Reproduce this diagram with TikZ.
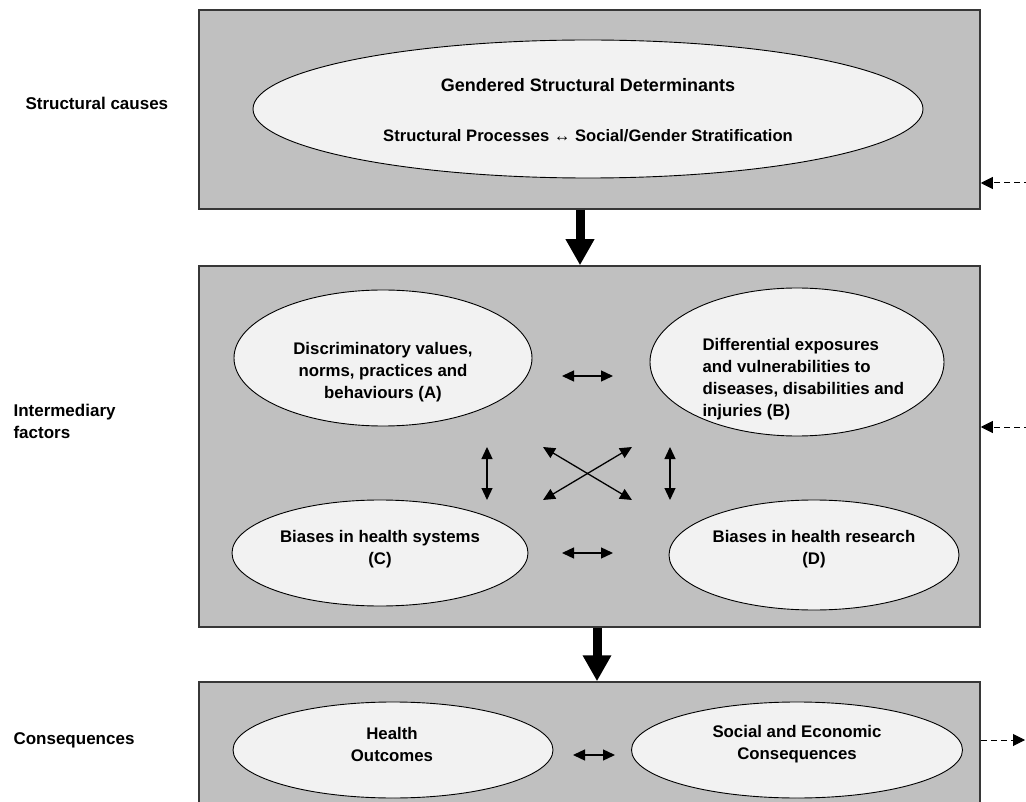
\documentclass[tikz,border=0pt]{standalone}
\usepackage{fontspec}
\setmainfont{Liberation Sans}
\usetikzlibrary{arrows.meta,shapes.geometric}
\definecolor{boxgray}{RGB}{192,192,192}
\definecolor{bubblefill}{RGB}{242,242,242}
\definecolor{edgegray}{RGB}{55,55,55}
\tikzset{
  levelbox/.style={draw=edgegray,line width=1.5pt,fill=boxgray,minimum width=781pt,inner sep=0pt},
  bubble/.style={ellipse,draw=black,line width=0.9pt,fill=bubblefill,inner sep=0pt},
  bubtext/.style={font=\bfseries\fontsize{16.8}{22}\selectfont,align=center},
  sidetext/.style={font=\bfseries\fontsize{17}{22}\selectfont,align=left,anchor=west},
  link/.style={{Triangle[length=12pt,width=11pt]}-{Triangle[length=12pt,width=11pt]},line width=1.3pt},
  flow/.style={-{Triangle[length=26pt,width=27pt]},line width=9pt},
  feed/.style={-{Triangle[length=12pt,width=12pt]},dash pattern=on 6pt off 4pt,line width=1pt}
}
\begin{document}
\begin{tikzpicture}[x=1pt,y=-1pt]
\useasboundingbox (0,0) rectangle (1026,802);
% level boxes
\node[levelbox,minimum height=199pt] (top) at (589.5,109.5) {};
\node[levelbox,minimum height=361pt] (mid) at (589.5,446.5) {};
\node[levelbox,minimum height=133pt] (bot) at (589.5,748.5) {};
% row labels
\node[sidetext] (lcause) at (22,103) {Structural causes};
\node[sidetext] (linter) at (10,421) {Intermediary\\factors};
\node[sidetext] (lcons) at (10,740) {Consequences};
% structural causes
\node[bubble,minimum width=670pt,minimum height=138pt] (gsd) at (588,109) {};
\node[bubtext,font=\bfseries\fontsize{18}{22}\selectfont] (gsdtitle) at (588,85) {Gendered Structural Determinants};
\node[bubtext,font=\bfseries\fontsize{16.6}{22}\selectfont] (gsdsub) at (588,136) {Structural Processes ↔ Social/Gender Stratification};
% intermediary factors
\node[bubble,minimum width=298pt,minimum height=136pt] (A) at (383,358) {};
\node[bubtext] (Atext) at (383,372) {Discriminatory values,\\norms, practices and\\behaviours (A)};
\node[bubble,minimum width=294pt,minimum height=148pt] (B) at (797,362) {};
\node[bubtext,align=left,anchor=west] (Btext) at (699,379) {Differential exposures\\and vulnerabilities to\\diseases, disabilities and\\injuries (B)};
\node[bubble,minimum width=296pt,minimum height=106pt] (C) at (380,553) {};
\node[bubtext] (Ctext) at (380,549) {Biases in health systems\\(C)};
\node[bubble,minimum width=290pt,minimum height=110pt] (D) at (814,555) {};
\node[bubtext] (Dtext) at (814,549) {Biases in health research\\(D)};
% consequences
\node[bubble,minimum width=320pt,minimum height=96pt] (H) at (393,750) {};
\node[bubtext] (Htext) at (392,744) {Health\\Outcomes};
\node[bubble,minimum width=331pt,minimum height=96pt] (S) at (797,750) {};
\node[bubtext] (Stext) at (797,744) {Social and Economic\\Consequences};
% arrow ends
\coordinate (ab1) at (562,376);
\coordinate (ab2) at (613,376);
\coordinate (cd1) at (562,553);
\coordinate (cd2) at (613,553);
\coordinate (hs1) at (573,755);
\coordinate (hs2) at (615,755);
\coordinate (ac1) at (487,447);
\coordinate (ac2) at (487,500);
\coordinate (bd1) at (670,447);
\coordinate (bd2) at (670,500);
\coordinate (ad1) at (543,447);
\coordinate (ad2) at (632,500);
\coordinate (bc1) at (632,447);
\coordinate (bc2) at (543,500);
\coordinate (fb1) at (1030,183);
\coordinate (fb2) at (1030,427);
\coordinate (fb3) at (1025,740);
% links
\draw[link] (ab1) -- (ab2);
\draw[link] (cd1) -- (cd2);
\draw[link] (hs1) -- (hs2);
\draw[link] (ac1) -- (ac2);
\draw[link] (bd1) -- (bd2);
\draw[link] (ad1) -- (ad2);
\draw[link] (bc1) -- (bc2);
% flow between levels
\draw[flow] ([xshift=-9.5pt]top.south) -- ([xshift=-9.5pt]mid.north);
\draw[flow] ([xshift=7.5pt]mid.south) -- ([xshift=7.5pt]bot.north);
% feedback
\draw[feed] (fb1) -- (fb1 -| top.east);
\draw[feed] (fb2) -- (fb2 -| mid.east);
\draw[feed] (fb3 -| bot.east) -- (fb3);
\end{tikzpicture}
\end{document}
